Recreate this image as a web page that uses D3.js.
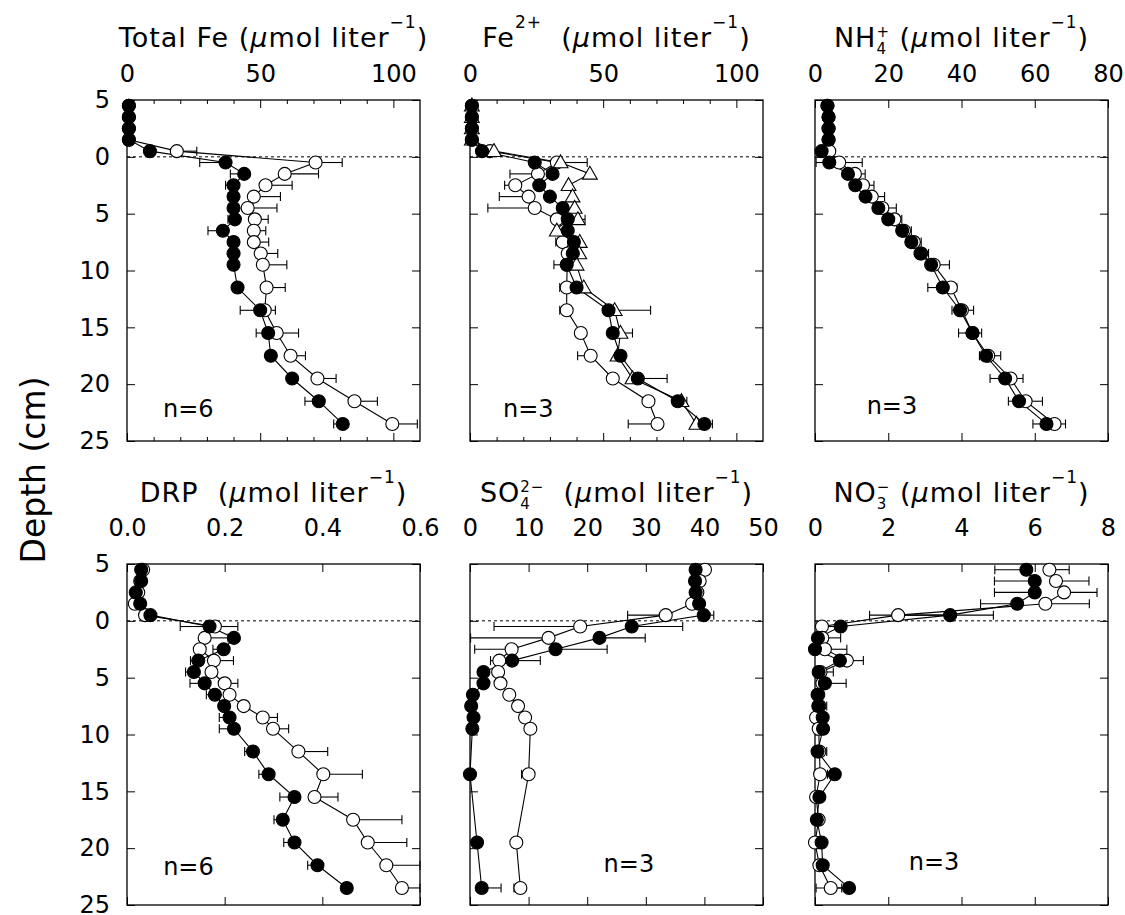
<!DOCTYPE html>
<html>
<head>
<meta charset="utf-8">
<script src="https://cdn.jsdelivr.net/npm/d3@7"></script>
<style>
  body { margin: 0; background: #fff; }
  svg { font-family: "DejaVu Sans", sans-serif; }
</style>
</head>
<body>
<svg width="1125" height="915"></svg>
<script>
// sample depths (cm); negative = overlying water
var depthCm = [-4.5,-3.5,-2.5,-1.5,-0.5,0.5,1.5,2.5,3.5,4.5,5.5,6.5,7.5,8.5,9.5,11.5,13.5,15.5,17.5,19.5,21.5,23.5];
var depthTicks = [-5,0,5,10,15,20,25];

// Total Fe
var totFeFilled    = [0.7,0.7,0.7,0.7,8.6,37,44,40,40,40,40.5,36,40,40,40,41.5,50,53,54,62,72,81];
var totFeFilledErr = [0,0,0,0,0,9.7,5.2,3,2,0,2.6,5.6,0,0,0,0,7.5,4.5,0,0,5.2,3.4];
var totFeOpen      = [0.7,0.7,0.7,0.7,18.7,70.8,59.2,52,47.6,45.3,48,47.6,47.6,50.2,51,52.4,51.7,56.2,61.4,71.5,85.4,99.6];
var totFeOpenErr   = [0,0,0,0,7.5,10,12.7,10,10,11,5,4.5,5.6,6.4,9,7,4,8.2,5.6,7,8.6,9.4];

// Fe2+
var fe2Filled    = [0.7,0.7,0.7,0.7,4.5,24.3,31,26,30,34.8,36.7,36.7,39,38.6,36.3,40,52,53.6,56.5,63,78,88];
var fe2FilledErr = [0,0,0,0,0,0,0,0,0,0,0,0,0,0,0,0,0,0,0,11,3.4,3];
var fe2Open      = [0.7,0.7,0.7,0.7,7.5,32.6,25.5,17,22,24.3,32.6,35.6,34.8,36.7,36.5,36.3,36.3,41.6,45.3,53.6,67,70.4];
var fe2OpenErr   = [0,0,0,0,0,0,10.5,4,11,17.6,1.5,0,2.6,0,5,2.6,2.6,0,4.9,0,0,11];
var fe2Tri       = [0.7,0.7,0.7,0.7,9,34,45,37,38.5,39.3,40.5,32.6,41.2,41,40,42.7,54.3,56.5,55.4,61,79.4,85];
var fe2TriErr    = [0,0,0,0,0,10,0,0,0,0,2.7,0,0,0,0,0,13.5,4.5,0,0,0,0];

// NH4+
var nh4Filled    = [3.4,3.7,3.7,3.7,1.8,3.9,9,11,13.8,17.3,20,23.8,26.3,28.8,31.7,34.9,39.6,43,46.7,51.9,55.7,63.2];
var nh4FilledErr = [0,0,0,0,0,3.6,0,0,0,0,0,0,1.3,0,0,4.1,2.2,3.8,1.8,4.1,2.9,3.7];
var nh4Open      = [3.4,3.7,3.7,3.7,3.9,6.6,10.9,13.1,15.5,18.4,21.7,24.3,27,29,32.4,37.1,40.1,43,47.3,53.4,57.5,65.4];
var nh4OpenErr   = [0,0,0,0,0,6.3,2.8,3,3.5,3.8,2,2,2,2,4.3,1.6,3.2,2.5,3.4,3.4,4.6,3];

// DRP
var drpFilled    = [0.029,0.029,0.018,0.027,0.048,0.169,0.219,0.198,0.146,0.137,0.159,0.18,0.199,0.21,0.219,0.258,0.29,0.343,0.319,0.343,0.39,0.45];
var drpFilledErr = [0,0,0,0,0,0.06,0,0.022,0.016,0.017,0.03,0.0175,0,0.021,0.03,0.017,0.02,0.03,0.018,0.022,0.02,0];
var drpOpen      = [0.033,0.027,0.023,0.016,0.037,0.18,0.159,0.149,0.178,0.173,0.2,0.21,0.239,0.278,0.299,0.351,0.402,0.384,0.463,0.493,0.531,0.563];
var drpOpenErr   = [0,0,0,0,0,0.047,0.048,0,0.04,0,0.027,0,0,0.03,0.032,0.06,0.08,0.048,0.1,0.08,0.07,0.05];

// SO4 2-
var so4Filled    = [38.5,38.4,38.5,39.1,39.9,27.6,22.1,14.6,7.2,2.3,2.3,0.5,0.2,0.6,0.4,null,0,null,null,1.2,null,2];
var so4FilledErr = [0,0,0,0,1.7,8.7,7.8,8.8,4.8,0,0,0,0,0,0,null,0,null,null,0.8,null,3.3];
var so4Open      = [40.1,39.2,38.8,37.9,33.4,18.8,13.4,7.1,5,4.8,5.2,6.7,8.2,9.4,10.3,null,10,null,null,7.9,null,8.6];
var so4OpenErr   = [0,0,0,0,6.5,14.7,13.3,6.3,1.5,0,0,0,0,0,0,null,1.2,null,null,0.7,null,1.1];

// NO3-
var no3Filled    = [5.77,6.0,6.0,5.52,3.69,0.7,0.08,0.0,0.68,0.1,0.27,0.07,0.09,0.21,0.22,0.07,0.54,0.12,0.05,0.18,0.21,0.93];
var no3FilledErr = [0.86,1.1,1.1,1.0,2.2,0,0,0,0,0,0,0,0,0,0,0,0,0,0,0,0,0.9];
var no3Open      = [6.4,6.58,6.8,6.29,2.27,0.19,0.2,0.27,0.87,0.15,0.2,0.09,0.12,0.03,0.1,0.12,0.14,0.03,0.1,0.0,0.12,0.43];
var no3OpenErr   = [0.54,0.9,0.9,1.2,2.6,0.5,0.5,0.6,0.45,0.35,0.65,0,0.2,0.15,0.2,0.2,0.2,0,0,0.2,0,0.3];

// axis tick values
var feTicks = [0,50,100], feMinor = [10,20,30,40,60,70,80,90];
var nh4Ticks = [0,20,40,60,80];
var drpTicks = [0,0.2,0.4,0.6];
var so4Ticks = [0,10,20,30,40,50];
var no3Ticks = [0,2,4,6,8];

var svg = d3.select("svg"),
    colX = [127, 470, 815], rowY = [100, 564],
    W = 293, H = 341,
    titleY = [47, 502], tickPad = [18, 28],
    font = "DejaVu Sans, sans-serif";

var mu = {t: "µ", it: true};
var unit = [mu, {t: "mol liter"}, {sup: "−1"}, {t: ")"}];

var panels = [
  {col: 0, row: 0, domain: [0, 110], ticks: feTicks, minor: feMinor, fmt: d3.format("d"),
   title: [{t: "Total Fe ("}].concat(unit), n: "n=6", nAt: [13.5, 22.9],
   series: [{v: totFeOpen, e: totFeOpenErr, dir: 1, sym: "open"},
            {v: totFeFilled, e: totFeFilledErr, dir: -1, sym: "filled"}]},
  {col: 1, row: 0, domain: [0, 110], ticks: feTicks, minor: feMinor, fmt: d3.format("d"),
   title: [{t: "Fe"}, {sup: "2+"}, {t: "  ("}].concat(unit), n: "n=3", nAt: [12.4, 22.9],
   series: [{v: fe2Open, e: fe2OpenErr, dir: -1, sym: "open"},
            {v: fe2Tri, e: fe2TriErr, dir: 1, sym: "tri"},
            {v: fe2Filled, e: fe2FilledErr, dir: 1, sym: "filled"}]},
  {col: 2, row: 0, domain: [0, 80], ticks: nh4Ticks, minor: [], fmt: d3.format("d"),
   title: [{t: "NH"}, {sub: "4", sup: "+"}, {t: " ("}].concat(unit), n: "n=3", nAt: [14.1, 22.6],
   series: [{v: nh4Open, e: nh4OpenErr, dir: 1, sym: "open"},
            {v: nh4Filled, e: nh4FilledErr, dir: -1, sym: "filled"}]},
  {col: 0, row: 1, domain: [0, 0.6], ticks: drpTicks, minor: [], fmt: d3.format(".1f"),
   title: [{t: "DRP  ("}].concat(unit), n: "n=6", nAt: [0.074, 22.4],
   series: [{v: drpOpen, e: drpOpenErr, dir: 1, sym: "open"},
            {v: drpFilled, e: drpFilledErr, dir: -1, sym: "filled"}]},
  {col: 1, row: 1, domain: [0, 50], ticks: so4Ticks, minor: [], fmt: d3.format("d"),
   title: [{t: "SO"}, {sub: "4", sup: "2−"}, {t: "  ("}].concat(unit), n: "n=3", nAt: [22.8, 22.1],
   series: [{v: so4Open, e: so4OpenErr, dir: -1, sym: "open"},
            {v: so4Filled, e: so4FilledErr, dir: 1, sym: "filled"}]},
  {col: 2, row: 1, domain: [0, 8], ticks: no3Ticks, minor: [], fmt: d3.format("d"),
   title: [{t: "NO"}, {sub: "3", sup: "−"}, {t: " ("}].concat(unit), n: "n=3", nAt: [2.56, 21.9],
   series: [{v: no3Open, e: no3OpenErr, dir: 1, sym: "open"},
            {v: no3Filled, e: no3FilledErr, dir: -1, sym: "filled"}]}
];

function styleAxis(sel, size) {
  sel.attr("font-family", font).attr("font-size", size);
  sel.select(".domain").remove();
  sel.selectAll(".tick line").attr("stroke", "#000").attr("stroke-width", 1);
  sel.selectAll(".tick text").attr("fill", "#000");
}

function drawTitle(parts, cx, cy) {
  var t = svg.append("text").attr("x", cx).attr("y", cy)
      .attr("text-anchor", "middle").attr("font-size", 27)
      .attr("letter-spacing", 1)
      .style("white-space", "pre");
  var off = 0;
  function span(txt, size, target, dx) {
    var s = t.append("tspan").attr("font-size", size).attr("dy", target - off).text(txt);
    if (dx) s.attr("dx", dx);
    off = target;
    return s;
  }
  parts.forEach(function(p) {
    if (p.sub) {
      var s = span(p.sub, 15, 7);
      span(p.sup, 15, -10, -s.node().getComputedTextLength());
    } else if (p.sup) {
      span(p.sup, 17, -19);
    } else {
      var s2 = span(p.t, 27, 0);
      if (p.it) s2.style("font-style", "italic");
    }
  });
}

panels.forEach(function(p) {
  var x = d3.scaleLinear().domain(p.domain).range([0, W]),
      y = d3.scaleLinear().domain([-5, 25]).range([0, H]),
      g = svg.append("g").attr("transform", "translate(" + colX[p.col] + "," + rowY[p.row] + ")");

  // axes, all ticks pointing inward
  g.append("g")
      .call(d3.axisTop(x).tickValues(p.ticks).tickSize(-8).tickPadding(tickPad[p.row]).tickFormat(p.fmt))
      .call(styleAxis, 24);
  g.append("g").attr("transform", "translate(0," + H + ")")
      .call(d3.axisBottom(x).tickValues(p.ticks).tickSize(-8).tickFormat(""))
      .call(styleAxis, 24);
  if (p.minor.length) {
    g.append("g").call(d3.axisTop(x).tickValues(p.minor).tickSize(-4).tickFormat("")).call(styleAxis, 24);
    g.append("g").attr("transform", "translate(0," + H + ")")
        .call(d3.axisBottom(x).tickValues(p.minor).tickSize(-4).tickFormat("")).call(styleAxis, 24);
  }
  g.append("g")
      .call(d3.axisLeft(y).tickValues(depthTicks).tickSize(-8).tickPadding(17)
        .tickFormat(p.col === 0 ? function(d) { return Math.abs(d); } : ""))
      .call(styleAxis, 24);
  g.append("g").attr("transform", "translate(" + W + ",0)")
      .call(d3.axisRight(y).tickValues(depthTicks).tickSize(-8).tickFormat(""))
      .call(styleAxis, 24);

  g.append("rect").attr("width", W).attr("height", H)
      .attr("fill", "none").attr("stroke", "#000").attr("stroke-width", 1.3);

  // sediment-water interface
  g.append("line").attr("x1", 0).attr("x2", W).attr("y1", y(0)).attr("y2", y(0))
      .attr("stroke", "#000").attr("stroke-width", 1).attr("stroke-dasharray", "3,3");

  var line = d3.line().x(function(d) { return x(d.v); }).y(function(d) { return y(d.d); });
  var dmax = p.domain[1];

  var sets = p.series.map(function(s) {
    return {s: s, pts: depthCm.map(function(d, i) { return {d: d, v: s.v[i], e: s.e[i]}; })
                              .filter(function(pt) { return pt.v != null; })};
  });

  sets.forEach(function(set) {
    g.append("path").datum(set.pts).attr("d", line)
        .attr("fill", "none").attr("stroke", "#000").attr("stroke-width", 1.1);
    var bars = g.append("g").selectAll("g").data(set.pts.filter(function(pt) { return pt.e > 0; }))
      .enter().append("g");
    bars.append("line")
        .attr("x1", function(d) { return x(d.v); })
        .attr("x2", function(d) { return x(Math.max(0, Math.min(dmax, d.v + set.s.dir * d.e))); })
        .attr("y1", function(d) { return y(d.d); }).attr("y2", function(d) { return y(d.d); })
        .attr("stroke", "#000").attr("stroke-width", 1.1);
    bars.append("line")
        .attr("x1", function(d) { return x(Math.max(0, Math.min(dmax, d.v + set.s.dir * d.e))); })
        .attr("x2", function(d) { return x(Math.max(0, Math.min(dmax, d.v + set.s.dir * d.e))); })
        .attr("y1", function(d) { return y(d.d) - 4.5; }).attr("y2", function(d) { return y(d.d) + 4.5; })
        .attr("stroke", "#000").attr("stroke-width", 1.1);
  });

  sets.forEach(function(set) {
    var m = g.append("g").selectAll(".m").data(set.pts).enter();
    if (set.s.sym === "tri") {
      m.append("path").attr("d", d3.symbol(d3.symbolTriangle, 95))
          .attr("transform", function(d) { return "translate(" + x(d.v) + "," + (y(d.d) + 1) + ")"; })
          .attr("fill", "#fff").attr("stroke", "#000").attr("stroke-width", 1.1);
    } else {
      m.append("circle").attr("cx", function(d) { return x(d.v); }).attr("cy", function(d) { return y(d.d); })
          .attr("r", 6.5)
          .attr("fill", set.s.sym === "filled" ? "#000" : "#fff")
          .attr("stroke", "#000").attr("stroke-width", 1.1);
    }
  });

  g.append("text").attr("x", x(p.nAt[0])).attr("y", y(p.nAt[1]))
      .attr("font-size", 24).text(p.n);

  drawTitle(p.title, colX[p.col] + W / 2, titleY[p.row]);
});

svg.append("text")
    .attr("transform", "translate(45,470) rotate(-90)")
    .attr("text-anchor", "middle").attr("font-size", 33)
    .text("Depth (cm)");
</script>
</body>
</html>
